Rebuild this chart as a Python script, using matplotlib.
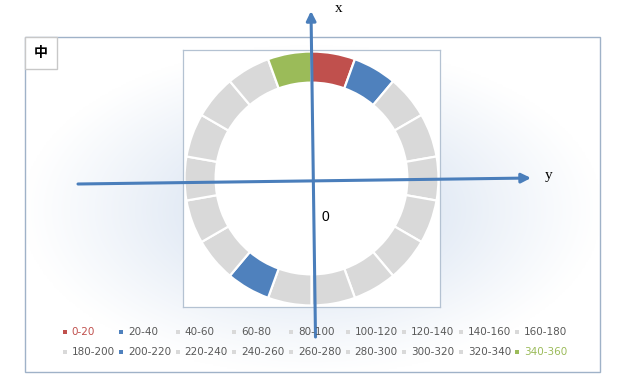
import numpy as np
import matplotlib
matplotlib.use("Agg")
import matplotlib.pyplot as plt
from matplotlib.patches import Rectangle, FancyArrowPatch

# ---- data ----
categories = ["0-20", "20-40", "40-60", "60-80", "80-100", "100-120", "120-140",
              "140-160", "160-180", "180-200", "200-220", "220-240", "240-260",
              "260-280", "280-300", "300-320", "320-340", "340-360"]
values = [20] * 18
seg_colors = ["#c0504d", "#4f81bd", "#d9d9d9", "#d9d9d9", "#d9d9d9", "#d9d9d9",
              "#d9d9d9", "#d9d9d9", "#d9d9d9", "#d9d9d9", "#4f81bd", "#d9d9d9",
              "#d9d9d9", "#d9d9d9", "#d9d9d9", "#d9d9d9", "#d9d9d9", "#9bbb59"]
label_colors = ["#c0504d"] + ["#595959"] * 16 + ["#9bbb59"]
axis_x_label = "x"
axis_y_label = "y"
center_label = "0"
corner_label = "中"

W, H = 628, 382
fig = plt.figure(figsize=(W / 100, H / 100), dpi=100)
fig.patch.set_facecolor("white")


def fx(px):
    return px / W


def fy(py):
    return 1 - py / H


# ---- background glow inside outer frame ----
bg = fig.add_axes([0, 0, 1, 1], zorder=0)
bg.set_xlim(0, W)
bg.set_ylim(H, 0)
bg.axis("off")
gx, gy = np.meshgrid(np.linspace(25, 600, 400), np.linspace(37, 372, 240))
t = np.sqrt(((gx - 312) / 290.0) ** 2 + ((gy - 210) / 165.0) ** 2)
inten = np.clip(1 - t, 0, 1) ** 1.1
base = np.array([1.0, 1.0, 1.0])
blue = np.array([0.80, 0.855, 0.93])
img = base[None, None, :] * (1 - inten[..., None]) + blue[None, None, :] * inten[..., None]
bg.imshow(img, extent=(25, 600, 372, 37), aspect="auto", interpolation="bilinear", zorder=0)
bg.add_patch(Rectangle((25, 37), 575, 335, fill=False, edgecolor="#9fb2c8", linewidth=1.0, zorder=2))

# corner box
bg.add_patch(Rectangle((25, 37), 32, 32, facecolor="white", edgecolor="#c8c8c8", linewidth=1.0, zorder=3))
bg.text(41, 53, corner_label, ha="center", va="center", fontsize=10, fontweight="bold",
        family=["Noto Sans CJK SC", "DejaVu Sans"], color="black", zorder=4)

# ---- donut ----
ax = fig.add_axes([fx(183), fy(307), 257 / W, 257 / H], zorder=1)
ax.pie(values, colors=seg_colors, startangle=90, counterclock=False, radius=1.0,
       wedgeprops=dict(width=0.245, edgecolor="white", linewidth=1.6))
ax.set_xlim(-1.012, 1.012)
ax.set_ylim(-1.012, 1.012)
ax.set_aspect("auto")
ax.set_facecolor("white")
ax.patch.set_visible(True)
ax.set_xticks([])
ax.set_yticks([])
ax.set_frame_on(True)
for s in ax.spines.values():
    s.set_visible(True)
    s.set_color("#b4c2d2")
    s.set_linewidth(0.9)

# ---- overlay: arrows and labels ----
ov = fig.add_axes([0, 0, 1, 1], zorder=5)
ov.set_xlim(0, W)
ov.set_ylim(H, 0)
ov.axis("off")
ov.patch.set_visible(False)
arrow_color = "#4a7ebb"
ov.add_patch(FancyArrowPatch((78, 184), (531, 178), arrowstyle="-|>,head_length=4,head_width=2.0",
                             color=arrow_color, linewidth=2.2, shrinkA=0, shrinkB=0, mutation_scale=1.4))
ov.add_patch(FancyArrowPatch((315.5, 337), (311, 11), arrowstyle="-|>,head_length=4,head_width=2.0",
                             color=arrow_color, linewidth=2.2, shrinkA=0, shrinkB=0, mutation_scale=1.4))
ov.text(339, 9, axis_x_label, ha="center", va="center", fontsize=11, family="Liberation Serif", color="black")
ov.text(549, 175, axis_y_label, ha="center", va="center", fontsize=11, family="Liberation Serif", color="black")
ov.text(325, 217, center_label, ha="center", va="center", fontsize=10, family="Liberation Sans", color="black")

# ---- legend ----
col_x0 = 71.5
col_dx = 56.6
row_y = [332, 352]
for i, (lab, mc, tc) in enumerate(zip(categories, seg_colors, label_colors)):
    col, row = i % 9, i // 9
    tx = col_x0 + col * col_dx
    ty = row_y[row]
    ov.add_patch(Rectangle((tx - 9, ty - 2), 4, 4, facecolor=mc, edgecolor="none"))
    ov.text(tx, ty, lab, ha="left", va="center", fontsize=7.5, family="DejaVu Sans", color=tc)

fig.savefig("out.png", dpi=100, facecolor="white")
